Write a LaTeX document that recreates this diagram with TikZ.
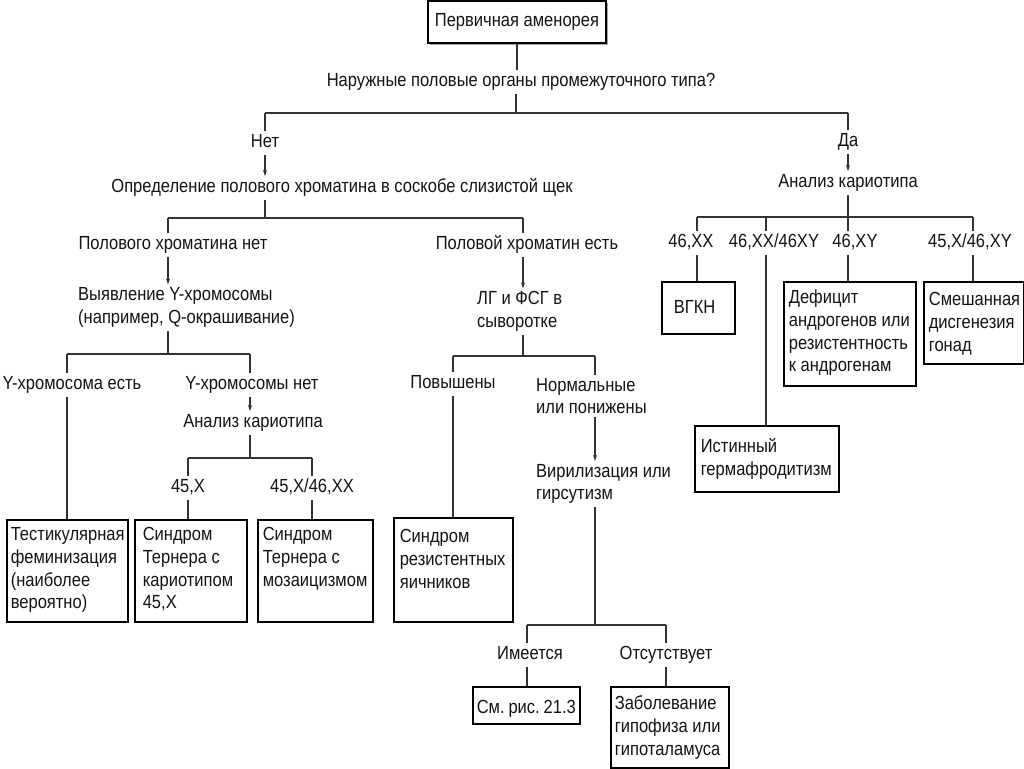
\documentclass[tikz,border=0pt]{standalone}
\usepackage{fontspec}
\setmainfont{Liberation Sans}[FakeStretch=0.87]
\usetikzlibrary{arrows.meta,shadows}
\newcommand{\bxt}[4]{\parbox[c][#2pt][t]{#1pt}{\raggedright\rule{0pt}{#3pt}#4}}
\tikzset{
  fnt/.style={font=\fontsize{19}{22.7}\selectfont, text=black!92},
  lbl/.style={fnt, inner xsep=2pt, inner ysep=3pt, text height=13.5pt, text depth=4pt},
  mlbl/.style={fnt, inner xsep=0pt, inner ysep=3pt, align=left, anchor=west},
  tbox/.style={fnt, draw=black, line width=1.6pt, fill=white, inner ysep=0pt, anchor=north west,
    drop shadow={shadow xshift=1.6pt, shadow yshift=-1.6pt, fill=black!35, opacity=1}},
  ln/.style={draw=black!80, line width=1.3pt},
  arr/.style={ln, -{Stealth[length=6pt,width=4pt]}}
}
\begin{document}
\begin{tikzpicture}[x=1pt,y=-1pt]
\fill[white] (0,0) rectangle (1024,768);
\useasboundingbox (0,0) rectangle (1024,768);

% ---- top
\node[tbox, anchor=center, inner sep=0pt, minimum width=178pt, minimum height=42pt] (amen) at (517,22) {Первичная аменорея};
\node[lbl] (q1) at (521,82) {Наружные половые органы промежуточного типа?};
\node[lbl] (no) at (265,143) {Нет};
\node[lbl] (da) at (848,142) {Да};
\node[lbl] (opr) at (342,188) {Определение полового хроматина в соскобе слизистой щек};
\node[lbl] (akr) at (848,183) {Анализ кариотипа};

\coordinate (jTop) at (516,113);
\coordinate (jNo) at (265,113);
\coordinate (jDa) at (848,113);
\draw[ln] (amen.south) -- (amen.south |- q1.north);
\draw[ln] (jTop |- q1.south) -- (jTop);
\draw[ln] (jNo) -- (jDa);
\draw[ln] (jNo) -- (no.north);
\draw[ln] (jDa) -- (da.north);
\draw[arr] (no.south) -- (no.south |- opr.north);
\draw[arr] (da.south) -- (da.south |- akr.north);

% ---- left half, second level
\node[lbl] (pxn) at (173,245) {Полового хроматина нет};
\node[lbl] (pxe) at (527,245) {Половой хроматин есть};
\coordinate (j2) at (265,218);
\coordinate (j2L) at (168,218);
\coordinate (j2R) at (523,218);
\draw[ln] (j2 |- opr.south) -- (j2);
\draw[ln] (j2L) -- (j2R);
\draw[ln] (j2L) -- (j2L |- pxn.north);
\draw[ln] (j2R) -- (j2R |- pxe.north);

% ---- Y chromosome branch
\node[mlbl] (vyy) at (78,307.5) {Выявление Y-хромосомы\\(например, Q-окрашивание)};
\draw[arr] (j2L |- pxn.south) -- (j2L |- vyy.north);
\coordinate (j3) at (168,354);
\coordinate (j3L) at (67,354);
\coordinate (j3R) at (250,354);
\node[lbl] (yes) at (72,385) {Y-хромосома есть};
\node[lbl] (yno) at (252,385) {Y-хромосомы нет};
\node[lbl] (ak2) at (253,423) {Анализ кариотипа};
\draw[ln] (j3 |- vyy.south) -- (j3);
\draw[ln] (j3L) -- (j3R);
\draw[ln] (j3L) -- (j3L |- yes.north);
\draw[ln] (j3R) -- (j3R |- yno.north);
\draw[arr] (j3R |- yno.south) -- (j3R |- ak2.north);

\coordinate (j4) at (250,458);
\coordinate (j4L) at (188,458);
\coordinate (j4R) at (312,458);
\node[lbl] (k45) at (188,488) {45,X};
\node[lbl] (k4546) at (312,488) {45,X/46,XX};
\draw[ln] (j4 |- ak2.south) -- (j4);
\draw[ln] (j4L) -- (j4R);
\draw[ln] (j4L) -- (j4L |- k45.north);
\draw[ln] (j4R) -- (j4R |- k4546.north);

\node[tbox, inner xsep=4pt] (tf) at (6,519) {\bxt{113}{102}{21}{Тестикулярная\\феминизация\\(наиболее\\вероятно)}};
\node[tbox, inner xsep=8pt] (st1) at (134,519) {\bxt{96}{102}{21}{Синдром\\Тернера~с\\кариотипом\\45,X}};
\node[tbox, inner xsep=5pt] (st2) at (257,519) {\bxt{105}{102}{21}{Синдром\\Тернера~с\\мозаицизмом}};
\draw[ln] (j3L |- yes.south) -- (j3L |- tf.north);
\draw[ln] (j4L |- k45.south) -- (j4L |- st1.north);
\draw[ln] (j4R |- k4546.south) -- (j4R |- st2.north);

% ---- sex chromatin present branch
\node[mlbl] (lh) at (477,311.5) {ЛГ и ФСГ в\\сыворотке};
\draw[arr] (j2R |- pxe.south) -- (j2R |- lh.north);
\coordinate (j5) at (523,356);
\coordinate (j5L) at (453,356);
\coordinate (j5R) at (595,356);
\node[lbl] (pov) at (453,384) {Повышены};
\node[mlbl] (norm) at (536,396) {Нормальные\\или понижены};
\node[mlbl] (vir) at (536,484) {Вирилизация или\\гирсутизм};
\draw[ln] (j5 |- lh.south) -- (j5);
\draw[ln] (j5L) -- (j5R);
\draw[ln] (j5L) -- (j5L |- pov.north);
\draw[ln] (j5R) -- (j5R |- norm.north);
\draw[arr] (j5R |- norm.south) -- (j5R |- vir.north);

\node[tbox, inner xsep=6pt] (sri) at (393,517) {\bxt{107}{104}{25}{Синдром\\резистентных\\яичников}};
\draw[ln] (j5L |- pov.south) -- (j5L |- sri.north);

\coordinate (j6) at (595,625);
\coordinate (j6L) at (527,625);
\coordinate (j6R) at (666,625);
\node[lbl] (im) at (530,655) {Имеется};
\node[lbl] (ots) at (666,655) {Отсутствует};
\draw[ln] (j6 |- vir.south) -- (j6);
\draw[ln] (j6L) -- (j6R);
\draw[ln] (j6L) -- (j6L |- im.north);
\draw[ln] (j6R) -- (j6R |- ots.north);
\node[tbox, inner xsep=4pt] (sr) at (472,686) {\bxt{99}{37}{27}{См.~рис.~21.3}};
\node[tbox, inner xsep=4pt] (zab) at (610,686) {\bxt{110}{81}{23}{Заболевание\\гипофиза~или\\гипоталамуса}};
\draw[ln] (j6L |- im.south) -- (j6L |- sr.north);
\draw[ln] (j6R |- ots.south) -- (j6R |- zab.north);

% ---- karyotype branch (right)
\coordinate (j7) at (848,217);
\coordinate (j7a) at (697,217);
\coordinate (j7b) at (766,217);
\coordinate (j7d) at (973,217);
\node[lbl] (k1) at (691,243) {46,XX};
\node[lbl] (k2) at (774,243) {46,XX/46XY};
\node[lbl] (k3) at (855,243) {46,XY};
\node[lbl] (k4) at (970,243) {45,X/46,XY};
\draw[ln] (j7 |- akr.south) -- (j7);
\draw[ln] (j7a) -- (j7d);
\draw[ln] (j7a) -- (j7a |- k1.north);
\draw[ln] (j7b) -- (j7b |- k2.north);
\draw[ln] (j7) -- (j7 |- k3.north);
\draw[ln] (j7d) -- (j7d |- k4.north);

\node[tbox, inner xsep=12pt] (vgkn) at (661,281) {\bxt{49}{52}{32}{ВГКН}};
\node[tbox, inner xsep=5pt] (def) at (783,281) {\bxt{122}{104}{22}{Дефицит\\андрогенов~или\\резистентность\\к~андрогенам}};
\node[tbox, inner xsep=5pt] (sm) at (923,281) {\bxt{90}{82}{24}{Смешанная\\дисгенезия\\гонад}};
\node[tbox, inner xsep=6pt] (ih) at (694,425) {\bxt{132}{66}{27}{Истинный\\гермафродитизм}};
\draw[ln] (j7a |- k1.south) -- (j7a |- vgkn.north);
\draw[ln] (j7b |- k2.south) -- (j7b |- ih.north);
\draw[ln] (j7 |- k3.south) -- (j7 |- def.north);
\draw[ln] (j7d |- k4.south) -- (j7d |- sm.north);
\end{tikzpicture}
\end{document}
